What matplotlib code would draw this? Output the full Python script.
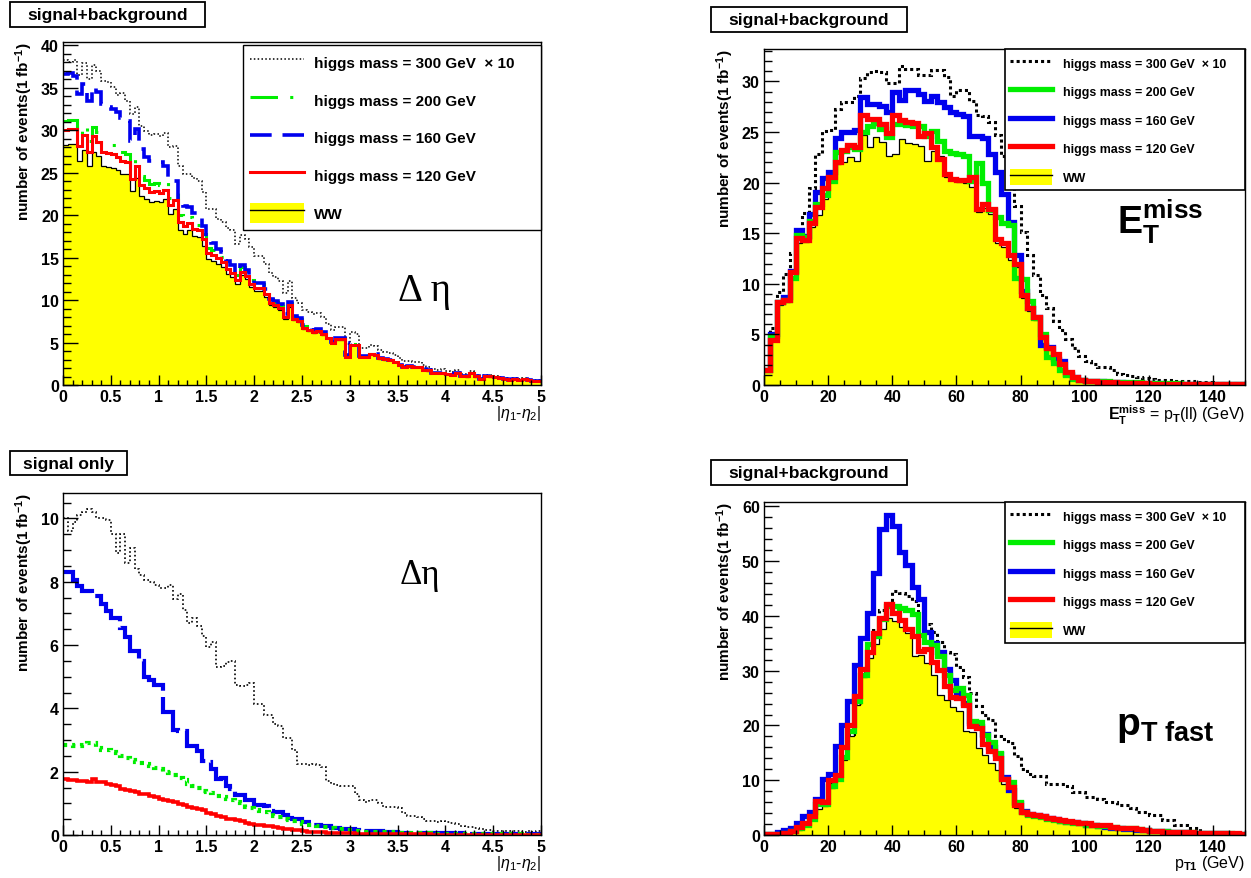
import numpy as np
import matplotlib.pyplot as plt
from matplotlib.lines import Line2D
from matplotlib.patches import Patch, Rectangle
from matplotlib.ticker import MultipleLocator, FormatStrFormatter

plt.rcParams['font.family'] = ['Liberation Sans', 'DejaVu Sans']
plt.rcParams['mathtext.fontset'] = 'custom'
plt.rcParams['mathtext.rm'] = 'Liberation Sans'
plt.rcParams['mathtext.bf'] = 'Liberation Sans:bold'
plt.rcParams['mathtext.it'] = 'Liberation Sans:italic'

# ---- delta eta (0..5, 100 bins) ----
eta_edges = np.linspace(0, 5, 101)
eta_ww = [28.3, 28.4, 28.4, 26.4, 27.7, 25.8, 27.5, 27.0, 25.8, 25.7,
          25.6, 25.3, 24.9, 24.8, 22.9, 24.4, 22.3, 21.9, 21.5, 21.7,
          21.5, 21.9, 20.1, 20.7, 18.2, 17.8, 18.2, 17.5, 17.4, 16.4,
          14.8, 14.6, 14.3, 13.9, 13.1, 12.7, 11.9, 12.9, 12.5, 11.5,
          11.1, 11.1, 10.4, 9.4, 9.2, 8.8, 7.8, 9.2, 7.6, 7.4,
          6.6, 6.4, 6.1, 6.3, 5.9, 5.5, 4.9, 5.3, 5.3, 3.3,
          4.7, 4.7, 3.3, 3.3, 3.6, 3.5, 3.1, 3.0, 2.9, 2.7,
          2.3, 2.1, 2.2, 2.1, 2.1, 1.8, 1.7, 1.4, 1.4, 1.4,
          1.3, 1.2, 1.4, 1.05, 1.0, 1.4, 1.0, 0.7, 1.05, 1.0,
          0.9, 0.8, 0.7, 0.6, 0.7, 0.6, 0.7, 0.6, 0.5, 0.5]
eta_sig300 = [10.0, 9.6, 9.9, 10.1, 10.2, 10.3, 10.2, 10.0, 10.0, 9.95,
              9.5, 8.9, 9.5, 8.6, 9.05, 8.4, 8.2, 8.05, 8.0, 7.9,
              7.8, 7.8, 7.9, 7.45, 7.6, 7.1, 6.7, 6.85, 6.6, 6.3,
              5.95, 6.1, 5.3, 5.35, 5.45, 5.5, 4.75, 4.72, 4.75, 4.8,
              4.15, 4.15, 3.8, 3.8, 3.5, 3.45, 3.05, 3.05, 2.7, 2.25,
              2.25, 2.2, 2.25, 2.2, 2.15, 1.72, 1.6, 1.58, 1.55, 1.56,
              1.55, 1.3, 1.1, 1.05, 1.1, 1.1, 1.0, 0.9, 0.9, 0.88,
              0.85, 0.7, 0.6, 0.6, 0.58, 0.5, 0.45, 0.45, 0.42, 0.44,
              0.4, 0.38, 0.36, 0.3, 0.25, 0.26, 0.22, 0.18, 0.15, 0.16,
              0.14, 0.13, 0.14, 0.12, 0.13, 0.12, 0.11, 0.12, 0.1, 0.12]
eta_sig200 = [2.85, 2.85, 2.8, 2.8, 2.85, 2.9, 2.9, 2.75, 2.7, 2.68,
              2.62, 2.58, 2.5, 2.44, 2.38, 2.32, 2.28, 2.24, 2.18, 2.13,
              2.08, 2.0, 1.96, 1.88, 1.8, 1.75, 1.6, 1.55, 1.5, 1.4,
              1.36, 1.33, 1.24, 1.2, 1.15, 1.1, 1.05, 1.0, 0.9, 0.85,
              0.8, 0.76, 0.72, 0.68, 0.6, 0.56, 0.5, 0.46, 0.44, 0.4,
              0.36, 0.33, 0.31, 0.28, 0.26, 0.24, 0.22, 0.2, 0.19, 0.17,
              0.15, 0.13, 0.12, 0.11, 0.1, 0.09, 0.09, 0.08, 0.08, 0.07,
              0.07, 0.06, 0.06, 0.05, 0.05, 0.05, 0.05, 0.04, 0.04, 0.04,
              0.04, 0.03, 0.03, 0.03, 0.03, 0.03, 0.03, 0.02, 0.02, 0.02,
              0.02, 0.02, 0.02, 0.02, 0.02, 0.02, 0.01, 0.01, 0.01, 0.01]
eta_sig160 = [8.3, 8.3, 8.05, 7.85, 7.7, 7.7, 7.55, 7.55, 7.3, 7.07,
              6.86, 6.86, 6.55, 6.25, 5.8, 5.8, 5.5, 5.0, 4.9, 4.73,
              4.73, 3.9, 3.9, 3.33, 3.27, 3.27, 2.8, 2.8, 2.65, 2.34,
              2.3, 2.08, 1.77, 1.8, 1.55, 1.46, 1.25, 1.25, 1.09, 1.09,
              0.95, 0.94, 0.92, 0.75, 0.73, 0.72, 0.62, 0.55, 0.5, 0.5,
              0.42, 0.42, 0.33, 0.31, 0.3, 0.3, 0.22, 0.21, 0.2, 0.2,
              0.19, 0.15, 0.13, 0.12, 0.12, 0.11, 0.12, 0.1, 0.1, 0.08,
              0.07, 0.07, 0.07, 0.06, 0.07, 0.06, 0.06, 0.05, 0.06, 0.05,
              0.05, 0.05, 0.04, 0.05, 0.04, 0.04, 0.04, 0.03, 0.04, 0.03,
              0.03, 0.03, 0.03, 0.03, 0.02, 0.03, 0.02, 0.02, 0.02, 0.02]
eta_sig120 = [1.77, 1.75, 1.73, 1.72, 1.7, 1.66, 1.77, 1.68, 1.66, 1.62,
              1.58, 1.55, 1.45, 1.42, 1.4, 1.36, 1.3, 1.28, 1.22, 1.2,
              1.15, 1.1, 1.08, 1.04, 0.98, 0.94, 0.88, 0.85, 0.83, 0.78,
              0.7, 0.67, 0.6, 0.57, 0.52, 0.5, 0.47, 0.43, 0.38, 0.36,
              0.33, 0.31, 0.3, 0.27, 0.24, 0.23, 0.2, 0.18, 0.16, 0.15,
              0.12, 0.11, 0.1, 0.09, 0.08, 0.07, 0.07, 0.06, 0.06, 0.05,
              0.05, 0.04, 0.04, 0.04, 0.03, 0.03, 0.03, 0.03, 0.03, 0.02,
              0.02, 0.02, 0.02, 0.02, 0.02, 0.02, 0.02, 0.01, 0.01, 0.01,
              0.01, 0.01, 0.01, 0.01, 0.01, 0.01, 0.01, 0.01, 0.01, 0.01,
              0.01, 0.01, 0.01, 0.01, 0.01, 0.01, 0.01, 0.01, 0.01, 0.01]

# ---- missing ET (0..150 GeV, 2 GeV bins) ----
gev_edges = np.arange(0, 152, 2)
met_ww = [1.4, 4.4, 7.9, 8.2, 10.5, 14.0, 14.1, 15.6, 16.8, 18.4,
          20.1, 21.8, 22.0, 22.5, 22.1, 24.7, 23.5, 24.5, 24.0, 22.6,
          22.8, 24.3, 23.9, 23.8, 23.6, 22.1, 23.1, 22.6, 20.6, 20.3,
          20.1, 20.0, 19.6, 17.1, 17.5, 16.9, 14.0, 13.6, 12.4, 11.7,
          8.6, 7.3, 6.4, 4.5, 3.5, 2.9, 2.0, 1.2, 0.7, 0.45,
          0.35, 0.3, 0.28, 0.25, 0.22, 0.2, 0.18, 0.16, 0.15, 0.14,
          0.12, 0.11, 0.1, 0.1, 0.09, 0.08, 0.08, 0.07, 0.06, 0.06,
          0.05, 0.05, 0.05, 0.04, 0.04]
met_120 = [1.5, 4.4, 8.2, 8.4, 11.2, 14.5, 14.3, 16.0, 17.6, 19.5,
           20.6, 22.0, 23.2, 23.7, 23.5, 26.7, 26.3, 26.3, 25.8, 24.9,
           26.7, 26.2, 26.0, 25.9, 24.6, 24.9, 23.5, 22.3, 20.8, 20.4,
           20.3, 20.3, 20.6, 17.4, 17.9, 17.4, 14.4, 14.0, 12.8, 12.0,
           8.9, 7.6, 6.7, 4.7, 3.7, 3.1, 2.1, 1.3, 0.8, 0.5,
           0.4, 0.35, 0.3, 0.28, 0.25, 0.22, 0.2, 0.18, 0.17, 0.16,
           0.14, 0.13, 0.12, 0.11, 0.1, 0.1, 0.09, 0.08, 0.08, 0.07,
           0.07, 0.06, 0.06, 0.05, 0.05]
met_200 = [1.5, 4.8, 8.2, 8.4, 10.6, 14.8, 14.6, 16.2, 17.9, 18.8,
           20.2, 23.0, 23.1, 23.5, 23.3, 25.0, 25.6, 25.9, 25.3, 24.5,
           25.8, 25.8, 25.7, 25.6, 25.6, 24.6, 25.1, 24.1, 23.1, 22.9,
           22.8, 22.6, 20.2, 21.9, 20.0, 17.3, 16.6, 16.0, 15.8, 10.6,
           10.5, 8.3, 6.6, 5.0, 2.8, 2.2, 1.5, 1.0, 0.6, 0.45,
           0.4, 0.4, 0.35, 0.35, 0.3, 0.3, 0.28, 0.25, 0.25, 0.22,
           0.2, 0.2, 0.18, 0.16, 0.15, 0.14, 0.13, 0.12, 0.12, 0.1,
           0.1, 0.1, 0.09, 0.08, 0.08]
met_160 = [1.5, 5.0, 8.2, 8.7, 11.3, 15.3, 14.7, 16.9, 19.1, 20.5,
           21.0, 24.4, 25.0, 25.0, 25.2, 28.5, 27.8, 27.8, 27.6, 27.0,
           29.0, 28.2, 29.1, 29.1, 28.8, 28.1, 28.6, 28.0, 27.5, 27.0,
           26.8, 26.6, 24.6, 24.6, 24.4, 22.8, 21.0, 18.9, 16.1, 12.8,
           9.3, 7.6, 6.7, 4.0, 3.8, 2.6, 2.4, 1.1, 0.8, 0.5,
           0.4, 0.38, 0.35, 0.3, 0.28, 0.25, 0.22, 0.2, 0.2, 0.18,
           0.16, 0.15, 0.14, 0.12, 0.12, 0.11, 0.1, 0.1, 0.09, 0.08,
           0.08, 0.07, 0.07, 0.06, 0.06]
met_300 = [1.5, 5.6, 9.2, 11.0, 13.0, 14.8, 17.0, 19.5, 22.8, 25.1,
           25.2, 27.3, 28.0, 28.0, 28.6, 30.3, 30.9, 31.0, 30.9, 29.8,
           29.8, 31.5, 31.2, 31.2, 30.6, 30.6, 31.1, 31.1, 30.4, 28.6,
           29.1, 29.1, 28.1, 26.7, 26.6, 26.0, 24.7, 22.6, 20.3, 17.7,
           15.1, 12.8, 10.9, 8.9, 7.6, 6.3, 5.4, 4.5, 3.7, 2.9,
           2.4, 2.1, 1.8, 1.8, 1.5, 1.1, 1.0, 0.9, 0.8, 0.7,
           0.6, 0.5, 0.5, 0.45, 0.4, 0.4, 0.35, 0.3, 0.3, 0.25,
           0.2, 0.2, 0.15, 0.15, 0.15]

# ---- leading lepton pT (0..150 GeV, 2 GeV bins) ----
pt_ww = [0.05, 0.05, 0.1, 0.2, 0.5, 1.0, 1.7, 2.9, 4.8, 5.3,
         8.6, 10.1, 13.7, 18.1, 23.8, 28.9, 32.4, 34.8, 37.6, 39.7,
         39.1, 38.0, 36.8, 32.6, 32.8, 31.4, 29.2, 25.6, 24.6, 23.4,
         22.6, 19.0, 18.8, 15.8, 14.6, 13.2, 11.8, 9.4, 8.0, 5.0,
         3.8, 3.4, 3.2, 3.1, 2.8, 2.6, 2.4, 2.3, 2.1, 2.0,
         1.9, 1.7, 1.6, 1.6, 1.2, 1.1, 1.0, 1.0, 0.9, 0.8,
         0.7, 0.6, 0.5, 0.5, 0.4, 0.4, 0.4, 0.3, 0.3, 0.3,
         0.25, 0.25, 0.2, 0.2, 0.15]
pt_120 = [0.1, 0.1, 0.2, 0.4, 0.8, 1.4, 2.1, 3.5, 6.2, 6.0,
          10.1, 10.9, 16.0, 20.0, 25.3, 30.4, 33.4, 36.8, 39.7, 42.1,
          40.6, 39.3, 37.6, 36.4, 33.6, 34.0, 31.6, 30.2, 27.2, 25.2,
          25.0, 23.8, 19.9, 19.6, 16.6, 15.4, 14.0, 10.2, 8.8, 5.5,
          4.2, 3.8, 3.6, 3.5, 3.1, 2.9, 2.7, 2.6, 2.4, 2.2,
          2.1, 1.9, 1.8, 1.8, 1.4, 1.3, 1.2, 1.2, 1.1, 1.0,
          0.8, 0.7, 0.6, 0.6, 0.5, 0.5, 0.5, 0.4, 0.4, 0.4,
          0.3, 0.3, 0.3, 0.3, 0.2]
pt_200 = [0.1, 0.1, 0.2, 0.3, 0.7, 1.2, 1.9, 3.0, 5.6, 5.6,
          9.0, 10.3, 14.3, 19.0, 24.5, 29.2, 34.9, 36.4, 39.4, 41.8,
          41.8, 41.5, 41.0, 40.4, 36.6, 35.2, 34.6, 32.6, 29.2, 26.4,
          26.8, 25.6, 20.9, 20.6, 18.2, 17.0, 14.9, 10.3, 9.7, 6.1,
          4.2, 3.6, 3.5, 3.3, 3.0, 2.8, 2.6, 2.4, 2.2, 2.1,
          1.9, 1.8, 1.7, 1.6, 1.4, 1.3, 1.2, 1.2, 1.1, 1.0,
          0.8, 0.7, 0.7, 0.6, 0.5, 0.5, 0.5, 0.4, 0.4, 0.35,
          0.3, 0.3, 0.3, 0.25, 0.2]
pt_160 = [0.1, 0.2, 0.5, 0.9, 1.3, 2.2, 3.4, 4.2, 6.5, 10.2,
          11.2, 16.2, 20.0, 24.5, 31.0, 36.0, 40.6, 47.8, 55.8, 58.4,
          56.5, 51.7, 49.3, 45.3, 43.0, 37.0, 35.0, 33.4, 30.4, 28.3,
          25.9, 24.1, 20.5, 19.9, 18.4, 16.1, 14.8, 10.5, 8.2, 5.8,
          4.4, 3.8, 3.6, 3.5, 3.1, 2.9, 2.6, 2.4, 2.3, 2.1,
          1.9, 1.8, 1.7, 1.5, 1.3, 1.2, 1.1, 1.1, 1.0, 0.9,
          0.8, 0.7, 0.7, 0.6, 0.5, 0.5, 0.4, 0.4, 0.35, 0.3,
          0.3, 0.3, 0.25, 0.25, 0.2]
pt_300 = [0.1, 0.1, 0.2, 0.4, 0.8, 1.2, 2.0, 3.5, 6.0, 6.2,
          9.5, 11.0, 14.5, 18.5, 24.0, 30.0, 34.0, 37.5, 41.0, 42.4,
          44.5, 44.2, 43.6, 42.7, 39.7, 38.5, 37.0, 35.2, 33.4, 33.0,
          30.7, 28.9, 26.0, 23.5, 22.0, 21.0, 18.0, 17.5, 16.8, 14.4,
          12.0, 11.2, 10.8, 10.8, 9.3, 9.3, 9.3, 9.0, 7.8, 7.8,
          6.9, 6.9, 6.5, 6.0, 6.0, 5.4, 5.4, 5.0, 4.2, 4.2,
          3.6, 3.6, 2.7, 2.7, 1.8, 1.8, 1.2, 1.2, 0.6, 0.6,
          0.4, 0.4, 0.4, 0.3, 0.3]

W, H = 1251, 879
fig = plt.figure(figsize=(W / 100, H / 100), dpi=100)


def px_axes(x0, y0, x1, y1):
    return fig.add_axes([x0 / W, 1 - y1 / H, (x1 - x0) / W, (y1 - y0) / H])


def title_box(x0, y0, x1, y1, text):
    fig.patches.append(Rectangle((x0 / W, 1 - y1 / H), (x1 - x0) / W, (y1 - y0) / H,
                                 transform=fig.transFigure, fc='white', ec='black', lw=1.3))
    fig.text((x0 + x1) / 2 / W, 1 - (y0 + y1) / 2 / H, text, ha='center', va='center',
             fontsize=12.5, fontweight='bold')


def style(ax, xmax, ymax, xmaj, xmin, ymaj, ymin, xlabel):
    ax.set_xlim(0, xmax)
    ax.set_ylim(0, ymax)
    ax.xaxis.set_major_locator(MultipleLocator(xmaj))
    ax.xaxis.set_minor_locator(MultipleLocator(xmin))
    ax.yaxis.set_major_locator(MultipleLocator(ymaj))
    ax.yaxis.set_minor_locator(MultipleLocator(ymin))
    ax.xaxis.set_major_formatter(FormatStrFormatter('%g'))
    ax.yaxis.set_major_formatter(FormatStrFormatter('%g'))
    ax.tick_params(which='both', direction='in', top=False, right=False, labelsize=11.5, pad=3)
    ax.tick_params(axis='y', which='major', length=11, width=1)
    ax.tick_params(axis='y', which='minor', length=5.5, width=1)
    ax.tick_params(axis='x', which='major', length=7, width=1)
    ax.tick_params(axis='x', which='minor', length=3.5, width=1)
    for lab in ax.get_xticklabels() + ax.get_yticklabels():
        lab.set_fontweight('bold')
    for s in ax.spines.values():
        s.set_linewidth(1.0)
    ax.set_ylabel(r'number of events(1 fb$^{\mathbf{-1}}$)', loc='top', fontsize=11,
                  fontweight='bold', labelpad=4)
    ax.set_xlabel(xlabel, loc='right', fontsize=11.5, labelpad=-1)


def ww_handle():
    return (Patch(facecolor='yellow', edgecolor='none'), Line2D([], [], color='black', lw=1))


labels = ['higgs mass = 300 GeV  \u00d7 10', 'higgs mass = 200 GeV', 'higgs mass = 160 GeV',
          'higgs mass = 120 GeV', 'WW']

# -------- top left: delta eta, signal+background --------
ax1 = px_axes(63, 43, 541, 386)
ww = np.array(eta_ww)
ax1.stairs(ww, eta_edges, fill=True, color='yellow')
ax1.stairs(ww, eta_edges, color='black', lw=0.9, baseline=None)
ax1.stairs(ww + np.array(eta_sig300), eta_edges, color='black', lw=1.1,
           linestyle=(0, (1, 1.5)), baseline=None)
ax1.stairs(ww + np.array(eta_sig200), eta_edges, color='#00ee00', lw=2.2,
           linestyle=(0, (9, 4, 1, 4, 1, 4)), baseline=None)
ax1.stairs(ww + np.array(eta_sig160), eta_edges, color='#0000ee', lw=2.6,
           linestyle=(0, (6, 3)), baseline=None)
ax1.stairs(ww + np.array(eta_sig120), eta_edges, color='#ff0000', lw=2.2, baseline=None)
style(ax1, 5, 40.4, 0.5, 0.1, 5, 1, r'$|\eta_{1}$-$\eta_{2}|$')
handles = [Line2D([], [], color='black', lw=1.1, linestyle=(0, (1, 1.5))),
           Line2D([], [], color='#00ee00', lw=2.2, linestyle=(0, (9, 4, 1, 4, 1, 4))),
           Line2D([], [], color='#0000ee', lw=2.6, linestyle=(0, (6, 3))),
           Line2D([], [], color='#ff0000', lw=2.2),
           ww_handle()]
leg = ax1.legend(handles, labels, loc='upper left', bbox_to_anchor=(0.377, 0.992, 0.623, 0.0),
                 mode='expand', borderaxespad=0, fancybox=False, edgecolor='black', framealpha=1,
                 prop={'size': 11, 'weight': 'bold'}, handlelength=3.5, handleheight=1.7,
                 handletextpad=0.7, labelspacing=1.12, borderpad=0.45)
leg.get_frame().set_linewidth(1.0)
fig.text(425 / W, 1 - 292 / H, '\u0394 \u03b7', family='Liberation Serif', fontsize=28,
         ha='center', va='center')
title_box(10, 3, 205, 28, 'signal+background')

# -------- bottom left: delta eta, signal only --------
ax3 = px_axes(63, 494, 541, 836)
ax3.stairs(eta_sig300, eta_edges, color='black', lw=1.2, linestyle=(0, (1, 1.5)), baseline=None)
ax3.stairs(eta_sig160, eta_edges, color='#0000ee', lw=3.0, linestyle=(0, (12, 1.5)), baseline=None)
ax3.stairs(eta_sig200, eta_edges, color='#00ee00', lw=3.0, linestyle=(0, (1, 1.2)), baseline=None)
ax3.stairs(eta_sig120, eta_edges, color='#ff0000', lw=2.6, baseline=None)
style(ax3, 5, 10.8, 0.5, 0.1, 2, 0.5, r'$|\eta_{1}$-$\eta_{2}|$')
fig.text(420 / W, 1 - 576 / H, '\u0394\u03b7', family='Liberation Serif', fontsize=25,
         ha='center', va='center')
title_box(10, 452, 127, 476, 'signal only')


def gev_panel(ax, ww, l120, l200, l160, l300, ymax, ymaj, ymin, xlabel):
    ww = np.array(ww)
    ax.stairs(ww, gev_edges, fill=True, color='yellow')
    ax.stairs(ww, gev_edges, color='black', lw=0.9, baseline=None)
    ax.stairs(l300, gev_edges, color='black', lw=2.2, linestyle=(0, (1, 1)), baseline=None)
    ax.stairs(l160, gev_edges, color='#0000ee', lw=3.8, baseline=None)
    ax.stairs(l200, gev_edges, color='#00ee00', lw=3.8, baseline=None)
    ax.stairs(l120, gev_edges, color='#ff0000', lw=3.8, baseline=None)
    style(ax, 150, ymax, 20, 5, ymaj, ymin, xlabel)
    hs = [Line2D([], [], color='black', lw=2.2, linestyle=(0, (1, 1))),
          Line2D([], [], color='#00ee00', lw=3.8),
          Line2D([], [], color='#0000ee', lw=3.8),
          Line2D([], [], color='#ff0000', lw=3.8),
          ww_handle()]
    lg = ax.legend(hs, labels, loc='upper left', bbox_to_anchor=(0.5, 0.999, 0.5, 0.0),
                   mode='expand', borderaxespad=0, fancybox=False, edgecolor='black', framealpha=1,
                   prop={'size': 8.9, 'weight': 'bold'}, handlelength=3.4, handleheight=1.6,
                   handletextpad=0.9, labelspacing=1.02, borderpad=0.45)
    lg.get_frame().set_linewidth(1.2)


# -------- top right: missing ET --------
ax2 = px_axes(764, 50, 1245, 386)
gev_panel(ax2, met_ww, met_120, met_200, met_160, met_300, 33.2, 5, 1,
          r'$\mathbf{E_{T}^{miss}}$ = p$_{\mathbf{T}}$(ll) (GeV)')
fig.text(1160 / W, 1 - 222 / H, r'$\mathbf{E_{T}^{miss}}$', fontsize=27, ha='center', va='center')
title_box(711, 8, 907, 33, 'signal+background')

# -------- bottom right: leading pT --------
ax4 = px_axes(764, 503, 1245, 836)
gev_panel(ax4, pt_ww, pt_120, pt_200, pt_160, pt_300, 60.8, 10, 2,
          r'p$_{\mathbf{T1}}$ (GeV)')
fig.text(1165 / W, 1 - 727 / H, r'$\mathbf{p_{T\ fast}}$', fontsize=28, ha='center', va='center')
title_box(711, 461, 907, 486, 'signal+background')

fig.savefig('out.png', dpi=100)
